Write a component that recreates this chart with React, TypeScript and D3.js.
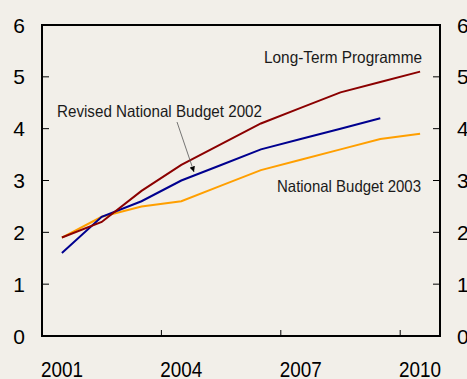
import React from "react";
import * as d3 from "d3";

const years = [2001, 2002, 2003, 2004, 2005, 2006, 2007, 2008, 2009, 2010];
const longTerm = [1.9, 2.2, 2.8, 3.3, 3.7, 4.1, 4.4, 4.7, 4.9, 5.1];
const revised2002 = [1.6, 2.3, 2.6, 3.0, 3.3, 3.6, 3.8, 4.0, 4.2];
const budget2003 = [1.9, 2.3, 2.5, 2.6, 2.9, 3.2, 3.4, 3.6, 3.8, 3.9];
const yTicks = [0, 1, 2, 3, 4, 5, 6];
const xTickLabels = [2001, 2004, 2007, 2010];
const xTickMarks = [2004, 2007, 2010];

const W = 467;
const H = 379;
const L = 42, R = 440, T = 25, B = 336;
const font = "'Liberation Sans Narrow', 'Arial Narrow', 'Liberation Sans', Arial, sans-serif";

export default function App() {
  const x = d3.scaleLinear().domain([2001, 2011]).range([L, R]);
  const y = d3.scaleLinear().domain([0, 6]).range([B, T]);
  const line = d3
    .line<number>()
    .x((_, i) => x(years[i] + 0.5))
    .y((d) => y(d));

  const series = [
    { data: budget2003, color: "#FF9F00" },
    { data: revised2002, color: "#00008F" },
    { data: longTerm, color: "#8B0000" },
  ];

  return (
    <svg
      width={W}
      height={H}
      style={{ position: "absolute", left: 0, top: 0, display: "block" }}
    >
      <defs>
        <marker id="ah" viewBox="0 0 10 10" refX="10" refY="5" markerWidth="7" markerHeight="7" orient="auto">
          <path d="M0,0 L10,5 L0,10 Z" fill="#000" />
        </marker>
      </defs>
      <rect x={0} y={0} width={W} height={H} fill="#F2EFE9" />
      {series.map((s, i) => (
        <path key={i} d={line(s.data) || ""} fill="none" stroke={s.color} strokeWidth={2} />
      ))}
      <rect x={L} y={T} width={R - L} height={B - T} fill="none" stroke="#000" strokeWidth={2} />
      {yTicks.map((t) => (
        <g key={t}>
          <line x1={L} x2={L + 7} y1={y(t)} y2={y(t)} stroke="#000" strokeWidth={1} />
          <line x1={R - 7} x2={R} y1={y(t)} y2={y(t)} stroke="#000" strokeWidth={1} />
          <text x={19} y={y(t)} dy="0.36em" textAnchor="middle" fontFamily={font} fontSize={21} fill="#000">
            {t}
          </text>
          <text x={457} y={y(t)} dy="0.36em" textAnchor="start" fontFamily={font} fontSize={21} fill="#000">
            {t}
          </text>
        </g>
      ))}
      {xTickMarks.map((t) => (
        <line key={t} x1={x(t)} x2={x(t)} y1={B} y2={B - 6} stroke="#000" strokeWidth={1} />
      ))}
      {xTickLabels.map((t) => (
        <text key={t} x={x(t + 0.5)} y={377} textAnchor="middle" fontFamily={font} fontSize={22} fill="#000" textLength={42} lengthAdjust="spacingAndGlyphs">
          {t}
        </text>
      ))}
      <text x={264} y={63} fontFamily={font} fontSize={16.5} fill="#1a1a1a" textLength={158} lengthAdjust="spacingAndGlyphs">
        Long-Term Programme
      </text>
      <text x={57} y={117} fontFamily={font} fontSize={16.5} fill="#1a1a1a" textLength={205} lengthAdjust="spacingAndGlyphs">
        Revised National Budget 2002
      </text>
      <text x={277} y={191.5} fontFamily={font} fontSize={16.5} fill="#1a1a1a" textLength={144} lengthAdjust="spacingAndGlyphs">
        National Budget 2003
      </text>
      <line x1={177} y1={122} x2={194} y2={172} stroke="#555" strokeWidth={0.8} markerEnd="url(#ah)" />
    </svg>
  );
}
